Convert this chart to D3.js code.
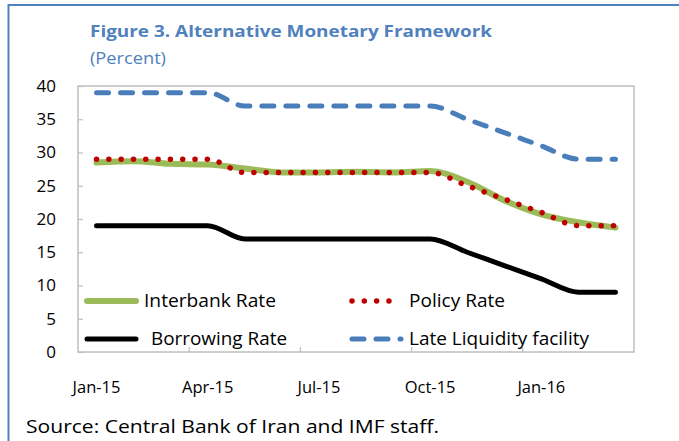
<!DOCTYPE html>
<html><head><meta charset="utf-8">
<script src="https://cdn.jsdelivr.net/npm/d3@7"></script>
<style>
html,body{margin:0;padding:0;background:#fff;}
svg text{font-family:"Open Sans","Noto Sans",sans-serif;}
</style></head>
<body><svg id="c" width="679" height="441"></svg>
<script>
const months = ["Jan-15","Feb-15","Mar-15","Apr-15","May-15","Jun-15","Jul-15","Aug-15","Sep-15","Oct-15","Nov-15","Dec-15","Jan-16","Feb-16","Mar-16"];
const tickLabels = ["Jan-15","Apr-15","Jul-15","Oct-15","Jan-16"];
const yTicks = [0,5,10,15,20,25,30,35,40];
const interbank = [28.5,28.7,28.3,28.2,27.6,27.0,27.0,27.1,27.0,27.2,25.6,22.8,20.7,19.5,18.7];
const policy    = [29,29,29,29,27,27,27,27,27,27,25,23,21,19,19];
const borrowing = [19,19,19,19,17,17,17,17,17,17,15,13,11,9,9];
const lateLiq   = [39,39,39,39,37,37,37,37,37,37,35,33,31,29,29];
const seriesNames = ["Interbank Rate","Policy Rate","Borrowing Rate","Late Liquidity facility"];

const svg = d3.select("#c");
const L=78,R=634,T=86,B=352;
const x = d3.scaleBand().domain(months).range([L,R]);
const y = d3.scaleLinear().domain([0,40]).range([B,T]);
const cx = m => x(m)+x.bandwidth()/2;

// outer frame
svg.append("line").attr("x1",8.5).attr("x2",8.5).attr("y1",4).attr("y2",441).attr("stroke","#4F81BD").attr("stroke-width",2);
svg.append("line").attr("x1",8).attr("x2",679).attr("y1",5).attr("y2",5).attr("stroke","#4F81BD").attr("stroke-width",2);

// title
svg.append("text").attr("x",90).attr("y",37).attr("fill","#4F81BD").attr("font-weight","bold").attr("font-size",16.5)
  .attr("textLength",402).attr("lengthAdjust","spacingAndGlyphs").text("Figure 3. Alternative Monetary  Framework");
svg.append("text").attr("x",90).attr("y",64).attr("fill","#4F81BD").attr("font-size",16.5)
  .attr("textLength",76).attr("lengthAdjust","spacingAndGlyphs").text("(Percent)");

// plot border
svg.append("rect").attr("x",L).attr("y",T).attr("width",R-L).attr("height",B-T).attr("fill","none").attr("stroke","#BFBFBF").attr("stroke-width",1.5);

// y axis
const ya = svg.append("g").attr("transform",`translate(${L},0)`)
  .call(d3.axisLeft(y).tickValues(yTicks).tickSize(-5).tickPadding(22).tickSizeOuter(0));
ya.select(".domain").remove();
ya.selectAll(".tick line").attr("stroke","#BFBFBF").attr("stroke-width",1.2);
ya.selectAll(".tick text").attr("font-size",17).attr("fill","#000").attr("font-family","Open Sans");

// x axis: ticks at boundaries every 3 months, labels under those months
const boundaries = [3,6,9,12];
svg.append("g").selectAll("line").data(boundaries).join("line")
  .attr("x1",d=>L+d*x.step()).attr("x2",d=>L+d*x.step()).attr("y1",B).attr("y2",B-5)
  .attr("stroke","#BFBFBF").attr("stroke-width",1.2);
svg.append("g").selectAll("text").data(tickLabels).join("text")
  .attr("x",d=>cx(d)).attr("y",393).attr("text-anchor","middle").attr("font-size",16.5).attr("fill","#000").text(d=>d);

const line = d3.line().x((d,i)=>cx(months[i])).y(d=>y(d)).curve(d3.curveMonotoneX);

svg.append("path").datum(interbank).attr("d",line).attr("fill","none").attr("stroke","#9BBB59").attr("stroke-width",6).attr("stroke-linecap","round").attr("stroke-linejoin","round");
svg.append("path").datum(borrowing).attr("d",line).attr("fill","none").attr("stroke","#000").attr("stroke-width",5).attr("stroke-linecap","round").attr("stroke-linejoin","round");
svg.append("path").datum(lateLiq).attr("d",line).attr("fill","none").attr("stroke","#4A7EBB").attr("stroke-width",5).attr("stroke-linecap","round").attr("stroke-linejoin","round").attr("stroke-dasharray","12,12");
svg.append("path").datum(policy).attr("d",line).attr("fill","none").attr("stroke","#C00000").attr("stroke-width",5.5).attr("stroke-linecap","round").attr("stroke-dasharray","0.01,12.3");

// legend
const leg = [
  {name:seriesNames[0],x:85,y:301,stroke:"#9BBB59",w:6,dash:null,tx:144,tw:132},
  {name:seriesNames[1],x:350,y:301,stroke:"#C00000",w:5.5,dash:"0.01,12.3",tx:409,tw:96},
  {name:seriesNames[2],x:85,y:339,stroke:"#000",w:5,dash:null,tx:151,tw:136},
  {name:seriesNames[3],x:350,y:339,stroke:"#4A7EBB",w:5,dash:"12,12",tx:409,tw:180}
];
const lg = svg.append("g");
leg.forEach(d=>{
  lg.append("line").attr("x1",d.x+2).attr("x2",d.x+51).attr("y1",d.y).attr("y2",d.y)
    .attr("stroke",d.stroke).attr("stroke-width",d.w).attr("stroke-linecap","round")
    .attr("stroke-dasharray",d.dash);
  lg.append("text").attr("x",d.tx).attr("y",d.y+6).attr("font-size",17.5).attr("fill","#000")
    .attr("textLength",d.tw).attr("lengthAdjust","spacingAndGlyphs").text(d.name);
});

// source
svg.append("text").attr("x",26).attr("y",433).attr("font-size",19).attr("fill","#000")
  .attr("textLength",413).attr("lengthAdjust","spacingAndGlyphs").text("Source: Central Bank of Iran and IMF staff.");
</script></body></html>
